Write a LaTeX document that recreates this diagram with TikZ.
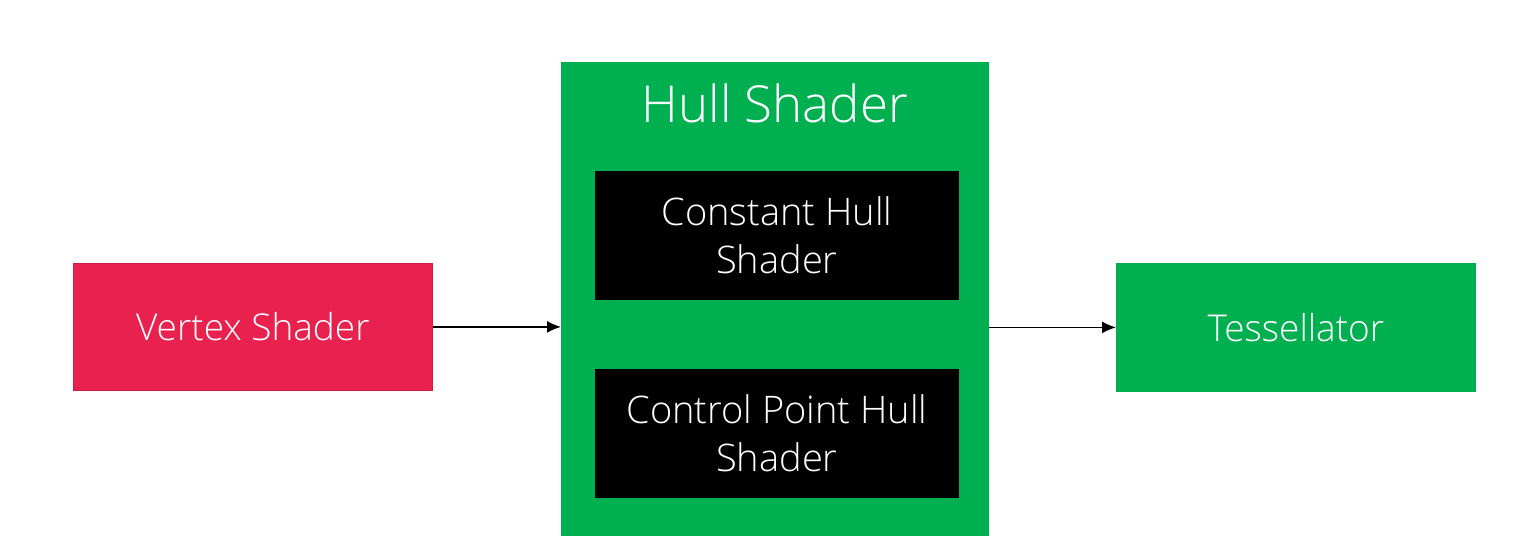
\documentclass[tikz,border=0pt]{standalone}
\usepackage{fontspec}
\setmainfont{Open Sans}[UprightFont=* Light]
\usetikzlibrary{arrows.meta}
\definecolor{vsred}{HTML}{E8214E}
\definecolor{hsgreen}{HTML}{00B050}
\tikzset{
  box/.style={draw=#1!90!black, line width=0.8pt, fill=#1, text=white, align=center, inner sep=0pt, anchor=north west},
  conn/.style={-{Latex[length=14pt,width=12pt]}, line width=1.5pt, black},
}
\begin{document}
\begin{tikzpicture}[x=1pt,y=-1pt]
\useasboundingbox (0,0) rectangle (1531,547);
\fill[white] (0,0) rectangle (1531,547);
\node[box=vsred, minimum width=359pt, minimum height=127pt, font=\fontsize{37}{44}\selectfont] (vs) at (73,263) {Vertex Shader};
\node[box=hsgreen, draw=hsgreen, minimum width=427pt, minimum height=473pt] (hs) at (561,62) {};
\node[text=white, font=\fontsize{51}{60}\selectfont, anchor=base] (hst) at (775,122) {Hull Shader};
\node[box=black, minimum width=363pt, minimum height=128pt, font=\fontsize{38}{48}\selectfont] (chs) at (595,171) {Constant Hull\\Shader};
\node[box=black, minimum width=363pt, minimum height=128pt, font=\fontsize{38}{48}\selectfont] (cphs) at (595,369) {Control Point Hull\\Shader};
\node[box=hsgreen, draw=hsgreen, minimum width=359pt, minimum height=128pt, font=\fontsize{37}{44}\selectfont] (tess) at (1116,263) {Tessellator};
\draw[conn] (vs.east) -- (vs.east -| hs.west);
\draw[conn] (hs.east |- tess.west) -- (tess.west);
\end{tikzpicture}
\end{document}
